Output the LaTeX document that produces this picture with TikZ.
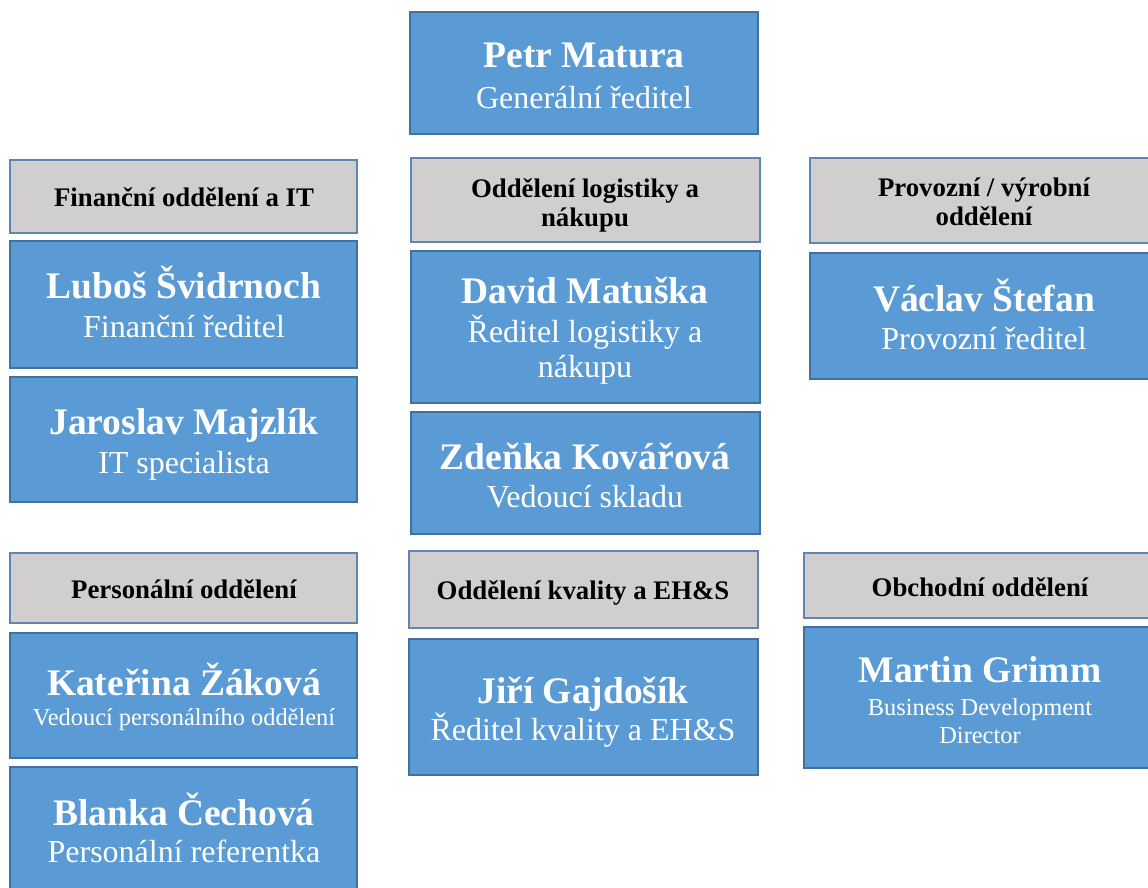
\documentclass[tikz,border=0pt]{standalone}
\usepackage{fontspec}
\setmainfont{Liberation Serif}
\definecolor{boxblue}{HTML}{5B9BD5}
\definecolor{boxedge}{HTML}{41719C}
\definecolor{hdrgray}{HTML}{D0CECE}
\definecolor{hdredge}{HTML}{5F86B3}
\tikzset{
 person/.style={draw=boxedge, line width=1.6pt, fill=boxblue},
 dept/.style={draw=hdredge, line width=1.6pt, fill=hdrgray},
 nm/.style={anchor=base, text=white, font=\fontsize{37.5}{42}\selectfont\bfseries, inner sep=0pt},
 rl/.style={anchor=base, text=white, font=\fontsize{32}{36}\selectfont, inner sep=0pt},
 rls/.style={anchor=base, text=white, font=\fontsize{24.4}{28}\selectfont, inner sep=0pt},
 hd/.style={anchor=base, text=black, font=\fontsize{26.8}{30}\selectfont\bfseries, inner sep=0pt},
}
\begin{document}
\begin{tikzpicture}[x=1pt,y=-1pt]
\useasboundingbox (0,0) rectangle (1148,887);
\clip (0,0) rectangle (1148,887);
\fill[white] (0,0) rectangle (1148,887);
% top
\draw[person] (410,12) rectangle (758,134);
\node[nm] (petrN) at (584,67) {Petr Matura};
\node[rl] (petrR) at (584,108) {Generální ředitel};
% left column
\draw[dept] (10,160) rectangle (357,233);
\node[hd] (finH) at (184,206) {Finanční oddělení a IT};
\draw[person] (10,241) rectangle (357,368);
\node[nm] (lubN) at (184,298) {Luboš Švidrnoch};
\node[rl] (lubR) at (184,337) {Finanční ředitel};
\draw[person] (10,377) rectangle (357,502);
\node[nm] (jarN) at (184,434) {Jaroslav Majzlík};
\node[rl] (jarR) at (184,473) {IT specialista};
% middle column
\draw[dept] (411,158) rectangle (760,242);
\node[hd] (logH1) at (585,197) {Oddělení logistiky a};
\node[hd] (logH2) at (585,226) {nákupu};
\draw[person] (411,251) rectangle (760,403);
\node[nm] (davN) at (585,303) {David Matuška};
\node[rl] (davR1) at (585,342) {Ředitel logistiky a};
\node[rl] (davR2) at (585,377) {nákupu};
\draw[person] (411,412) rectangle (760,534);
\node[nm] (zdeN) at (585,469) {Zdeňka Kovářová};
\node[rl] (zdeR) at (585,507) {Vedoucí skladu};
% right column
\draw[dept] (810,158) rectangle (1160,243);
\node[hd] (proH1) at (984,196) {Provozní / výrobní};
\node[hd] (proH2) at (984,225) {oddělení};
\draw[person] (810,253) rectangle (1160,379);
\node[nm] (vacN) at (984,311) {Václav Štefan};
\node[rl] (vacR) at (984,349) {Provozní ředitel};
% bottom left
\draw[dept] (10,553) rectangle (357,623);
\node[hd] (perH) at (184,598) {Personální oddělení};
\draw[person] (10,633) rectangle (357,758);
\node[nm] (katN) at (184,695) {Kateřina Žáková};
\node[rls] (katR) at (184,725) {Vedoucí personálního oddělení};
\draw[person] (10,767) rectangle (357,900);
\node[nm] (blaN) at (184,825) {Blanka Čechová};
\node[rl] (blaR) at (184,862) {Personální referentka};
% bottom middle
\draw[dept] (409,551) rectangle (758,628);
\node[hd] (kvaH) at (583,599) {Oddělení kvality a EH\&S};
\draw[person] (409,639) rectangle (758,775);
\node[nm] (jirN) at (583,703) {Jiří Gajdošík};
\node[rl] (jirR) at (583,740) {Ředitel kvality a EH\&S};
% bottom right
\draw[dept] (804,553) rectangle (1160,618);
\node[hd] (obcH) at (980,596) {Obchodní oddělení};
\draw[person] (804,627) rectangle (1160,768);
\node[nm] (marN) at (980,682) {Martin Grimm};
\node[rls] (marR1) at (980,715) {Business Development};
\node[rls] (marR2) at (980,743) {Director};
\end{tikzpicture}
\end{document}
